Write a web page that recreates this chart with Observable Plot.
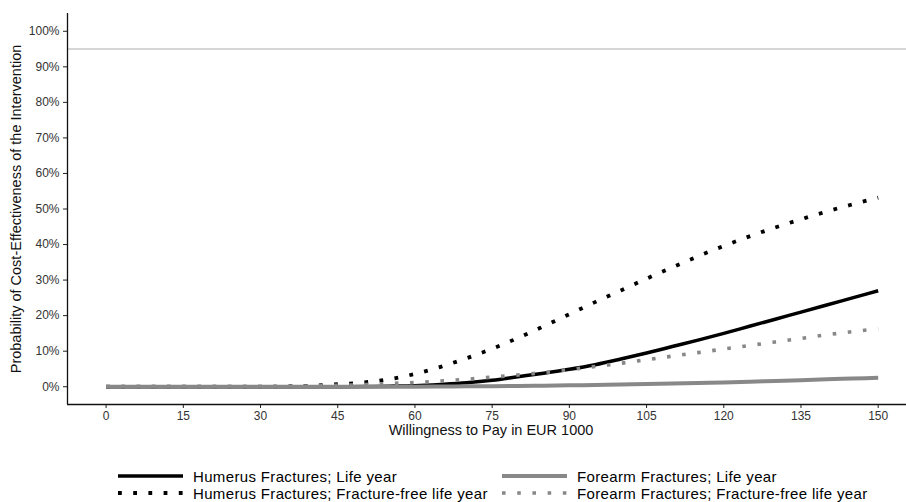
<!DOCTYPE html>
<html>
<head>
<meta charset="utf-8">
<script src="https://cdn.jsdelivr.net/npm/d3@7"></script>
<script src="https://cdn.jsdelivr.net/npm/@observablehq/plot@0.6"></script>
<style>
  html, body { margin: 0; padding: 0; background: #fff; }
  #wrap { width: 906px; height: 502px; position: relative; overflow: hidden; }
  #legend { position: relative; width: 906px; height: 52px; font-family: "Liberation Sans", Arial, sans-serif; font-size: 15px; letter-spacing: 0.35px; color: #000; }
  .item { position: absolute; height: 18px; display: flex; align-items: center; white-space: nowrap; }
  .item svg { display: block; margin-right: 10px; }
</style>
</head>
<body>
<div id="wrap">
  <div id="chart"></div>
  <div id="legend"></div>
</div>
<script>
// ---- data (values in percent) ----
const wtp = [0, 5, 10, 15, 20, 25, 30, 35, 40, 45, 50, 55, 60, 65, 70, 75, 80, 85, 90, 95, 100, 105, 110, 115, 120, 125, 130, 135, 140, 145, 150];
const humerusLifeYear = [0, 0, 0, 0, 0, 0, 0, 0, 0, 0, 0.05, 0.15, 0.3, 0.65, 1.1, 1.8, 2.8, 3.8, 4.9, 6.2, 7.8, 9.5, 11.3, 13.1, 15.0, 17.0, 19.0, 21.0, 23.0, 25.0, 27.0];
const humerusFractureFree = [0, 0, 0, 0, 0, 0, 0, 0.1, 0.3, 0.7, 1.2, 2.1, 3.6, 5.6, 8.0, 10.7, 13.7, 17.0, 20.4, 23.8, 27.1, 30.4, 33.6, 36.7, 39.6, 42.3, 44.8, 47.1, 49.3, 51.3, 53.2];
const forearmLifeYear = [0, 0, 0, 0, 0, 0, 0, 0, 0, 0, 0, 0, 0, 0.05, 0.1, 0.15, 0.2, 0.3, 0.4, 0.5, 0.6, 0.75, 0.9, 1.05, 1.2, 1.4, 1.6, 1.85, 2.1, 2.3, 2.5];
const forearmFractureFree = [0, 0, 0, 0, 0, 0, 0, 0.1, 0.2, 0.4, 0.6, 0.9, 1.2, 1.6, 2.1, 2.7, 3.3, 4.0, 4.8, 5.7, 6.6, 7.6, 8.6, 9.6, 10.6, 11.6, 12.6, 13.6, 14.6, 15.5, 16.3];
const seriesNames = ["Humerus Fractures; Life year", "Forearm Fractures; Life year", "Humerus Fractures; Fracture-free life year", "Forearm Fractures; Fracture-free life year"];
const thresholdLine = [95];
const xTicks = [0, 15, 30, 45, 60, 75, 90, 105, 120, 135, 150];
const yTicks = [0, 10, 20, 30, 40, 50, 60, 70, 80, 90, 100];
const xTitle = "Willingness to Pay in EUR 1000";
const yTitle = "Probability of Cost-Effectiveness of the Intervention";

// ---- styles ----
const GRAY = "#888888";
const styles = {
  [seriesNames[0]]: {stroke: "#000", strokeWidth: 3.5, dash: null},
  [seriesNames[1]]: {stroke: GRAY, strokeWidth: 4, dash: null},
  [seriesNames[2]]: {stroke: "#000", strokeWidth: 3.8, dash: "3.8,11.4"},
  [seriesNames[3]]: {stroke: GRAY, strokeWidth: 3.6, dash: "3.6,11.6"}
};
const valuesByName = {
  [seriesNames[0]]: humerusLifeYear,
  [seriesNames[1]]: forearmLifeYear,
  [seriesNames[2]]: humerusFractureFree,
  [seriesNames[3]]: forearmFractureFree
};
const table = name => wtp.map((x, i) => ({x, y: valuesByName[name][i]}));
// draw order: black solid, black dotted, gray dotted, gray solid
const drawOrder = [seriesNames[0], seriesNames[2], seriesNames[3], seriesNames[1]];

const lineMarks = drawOrder.map(name => Plot.line(table(name), {
  x: "x", y: "y",
  stroke: styles[name].stroke,
  strokeWidth: styles[name].strokeWidth,
  strokeDasharray: styles[name].dash || undefined,
  strokeLinecap: "butt",
  strokeLinejoin: "round",
  curve: "monotone-x"
}));

const xDomain = [-7.5, 155.5];
const yDomain = [-5, 105];

const chart = Plot.plot({
  width: 906,
  height: 450,
  marginLeft: 67,
  marginRight: 0,
  marginTop: 13,
  marginBottom: 46,
  style: {fontFamily: "'Liberation Sans', Arial, sans-serif", fontSize: "12px", background: "white", color: "#333"},
  x: {domain: xDomain},
  y: {domain: yDomain},
  marks: [
    Plot.ruleY(thresholdLine, {stroke: "#c8c8c8", strokeWidth: 1.6}),
    Plot.axisX({ticks: xTicks, tickSize: 4, tickPadding: 3, label: null, stroke: "#222", fill: "#333", fontSize: 12}),
    Plot.axisY({ticks: yTicks, tickSize: 4, tickPadding: 4, tickFormat: d => d + "%", label: null, stroke: "#222", fill: "#333", fontSize: 12}),
    Plot.ruleX([xDomain[0]], {stroke: "#111", strokeWidth: 1.3}),
    Plot.ruleY([yDomain[0]], {stroke: "#111", strokeWidth: 1.3}),
    ...lineMarks,
    Plot.text([xTitle], {frameAnchor: "bottom", dy: 30, dx: 4, fontSize: 14.5, fill: "#111", text: d => d}),
    Plot.text([yTitle], {frameAnchor: "left", dx: -51, rotate: -90, textAnchor: "middle", lineAnchor: "middle", fontSize: 14.5, fill: "#111", text: d => d})
  ]
});
document.getElementById("chart").appendChild(chart);

// ---- legend ----
const legend = document.getElementById("legend");
const legendSlots = [
  {left: 118, top: 17}, {left: 502, top: 17},
  {left: 118, top: 34}, {left: 502, top: 34}
];
seriesNames.forEach((name, i) => {
  const s = styles[name];
  const div = document.createElement("div");
  div.className = "item";
  div.style.left = legendSlots[i].left + "px";
  div.style.top = legendSlots[i].top + "px";
  const dash = s.dash ? ` stroke-dasharray="${s.dash}"` : "";
  div.innerHTML = `<svg width="65" height="18"><line x1="0" x2="65" y1="9" y2="9" stroke="${s.stroke}" stroke-width="${s.strokeWidth}"${dash} stroke-linecap="butt"/></svg><span>${name}</span>`;
  legend.appendChild(div);
});
</script>
</body>
</html>
